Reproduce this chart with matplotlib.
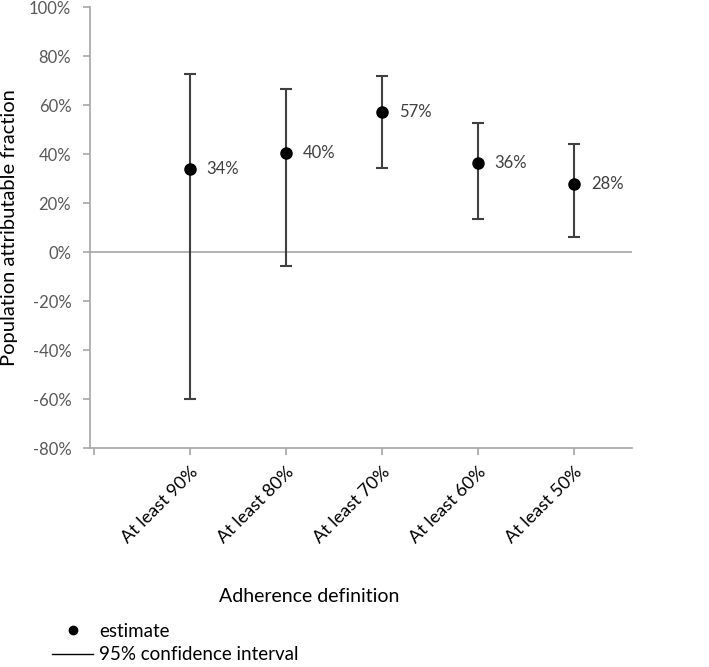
import matplotlib.pyplot as plt
from matplotlib.lines import Line2D
from matplotlib.ticker import PercentFormatter

plt.rcParams['font.family'] = ['Lato', 'DejaVu Sans']
plt.rcParams['axes.unicode_minus'] = False

categories = ['At least 90%', 'At least 80%', 'At least 70%', 'At least 60%', 'At least 50%']
estimate = [34, 40.4, 57, 36.2, 27.6]
ci_low = [-60, -5.8, 34.3, 13.5, 6.3]
ci_high = [72.7, 66.4, 71.9, 52.8, 44]
labels = ['34%', '40%', '57%', '36%', '28%']

grey = '#a6a6a6'
dark = '#404040'

fig = plt.figure(figsize=(7.09, 6.67), dpi=100)
ax = fig.add_axes([0.127, 0.328, 0.764, 0.6615])

x = list(range(1, len(categories) + 1))
err_lo = [e - l for e, l in zip(estimate, ci_low)]
err_hi = [h - e for e, h in zip(estimate, ci_high)]

ax.errorbar(x, estimate, yerr=[err_lo, err_hi], fmt='none', ecolor=dark,
            elinewidth=1.5, capsize=4.5, capthick=1.5, zorder=3)
ax.plot(x, estimate, 'o', color='black', markersize=8, zorder=4)
for xi, yi, t in zip(x, estimate, labels):
    ax.annotate(t, (xi, yi), xytext=(12, 0), textcoords='offset points',
                va='center', ha='left', fontsize=12, color=dark)

ax.axhline(0, color=grey, lw=1.2, zorder=1)

ax.set_xlim(-0.04, 5.6)
ax.set_ylim(-80, 100)
ax.set_yticks(range(-80, 101, 20))
ax.yaxis.set_major_formatter(PercentFormatter(decimals=0))
ax.set_xticks([0] + x)
ax.set_xticklabels([''] + categories, rotation=45, ha='right',
                   rotation_mode='anchor', fontsize=13, color='black')

for s in ['top', 'right']:
    ax.spines[s].set_visible(False)
for s in ['left', 'bottom']:
    ax.spines[s].set_color(grey)
    ax.spines[s].set_linewidth(1.2)
ax.tick_params(axis='both', color=grey, width=1.2, length=5, direction='out')
ax.tick_params(axis='y', labelsize=12, labelcolor='#595959', pad=8.5)
ax.tick_params(axis='x', pad=6)

ax.set_ylabel('Population attributable fraction', fontsize=14.5, color='black')
ax.yaxis.label.set_va('center')
ax.yaxis.set_label_coords(-0.148, 0.5)
ax.set_xlabel('Adherence definition', fontsize=14, color='black')
ax.xaxis.label.set_va('center')
ax.xaxis.set_label_coords(0.404, -0.336)

handles = [Line2D([], [], marker='o', ls='none', color='black', markersize=6),
           Line2D([], [], color='black', lw=1)]
fig.legend(handles, ['estimate', '95% confidence interval'], loc='center left',
           bbox_to_anchor=(0.06, 0.036), bbox_transform=fig.transFigure,
           frameon=False, fontsize=13.5, handlelength=2.2, handletextpad=0.3,
           labelspacing=0.36, borderpad=0)

fig.savefig('out.png', dpi=100)
